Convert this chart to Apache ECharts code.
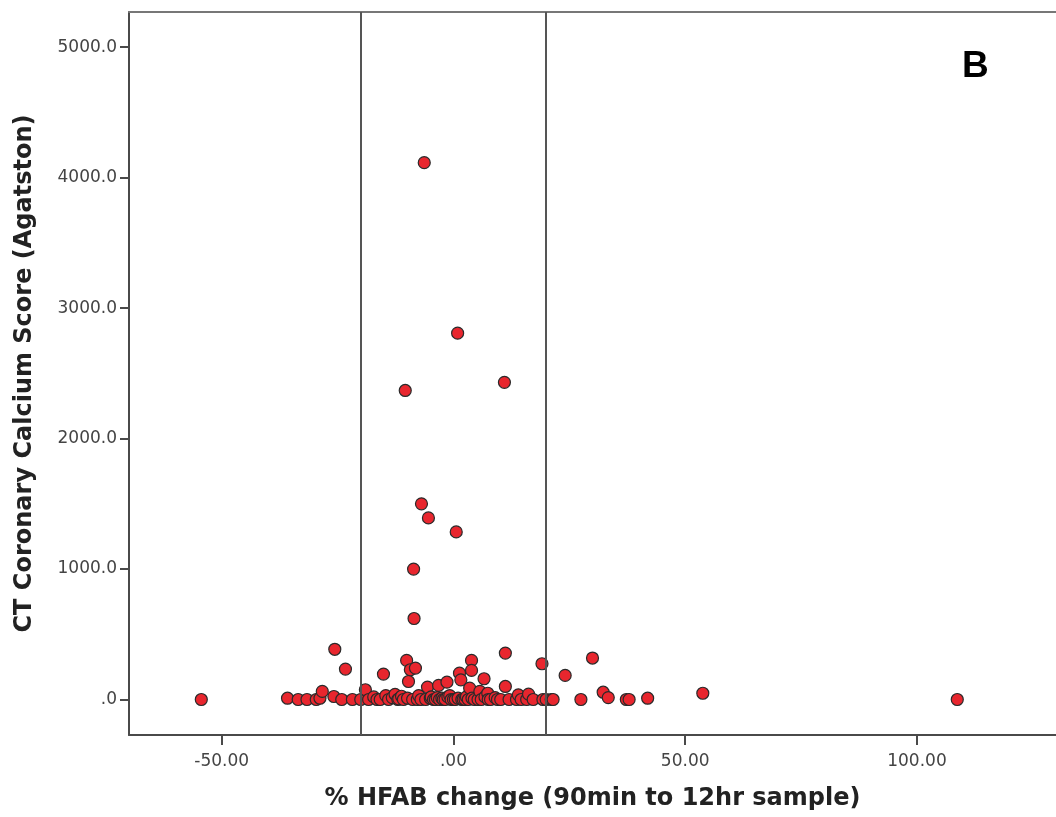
<!DOCTYPE html>
<html>
<head>
<meta charset="utf-8">
<script src="https://cdn.jsdelivr.net/npm/echarts@6/dist/echarts.min.js"></script>
<style>
html,body{margin:0;padding:0;background:#fff;}
#chart{width:1056px;height:817px;}
</style>
</head>
<body>
<div id="chart"></div>
<script>
// % HFAB change (x) and CT coronary calcium score (y)
const hfabChange = [
  -54.4, -35.8, -33.5, -31.6, -29.6, -28.8, -28.3, -25.8, -25.6, -24.1,
  -23.3, -21.8, -20.0, -19.0, -18.3, -17.2, -16.5, -15.8, -15.1, -14.6,
  -14.0, -13.2, -12.6, -12.0, -11.8, -11.2, -10.8, -10.4, -10.1, -9.9,
  -9.7, -9.3, -8.8, -8.6, -8.5, -8.2, -7.8, -7.5, -7.0, -6.9,
  -6.3, -6.0, -5.6, -5.4, -5.0, -4.8, -4.3, -3.9, -3.5, -3.2,
  -3.0, -2.5, -2.2, -1.8, -1.4, -1.2, -0.8, -0.5, 0.0, 0.4,
  0.6, 0.9, 1.0, 1.3, 1.6, 1.8, 2.1, 2.5, 2.8, 3.2,
  3.5, 3.9, 3.9, 4.0, 4.5, 5.3, 5.7, 6.0, 6.6, 6.8,
  7.4, 7.5, 8.0, 9.0, 9.5, 10.2, 11.0, 11.2, 11.2, 12.0,
  13.6, 14.0, 14.6, 15.8, 16.2, 17.2, 19.1, 19.3, 20.0, 21.1,
  21.5, 24.1, 27.5, 30.0, 32.3, 33.4, 37.3, 37.9, 41.9, 53.8,
  108.7
];
const calciumScore = [
  0, 10, 0, 0, 0, 10, 62, 23, 385, 0,
  233, 0, 0, 75, 0, 20, 0, 0, 195, 30,
  0, 15, 40, 0, 5, 25, 0, 2369, 300, 10,
  138, 228, 0, 1000, 621, 241, 0, 30, 0, 1500,
  4115, 0, 95, 1392, 10, 20, 0, 0, 15, 108,
  0, 10, 0, 0, 133, 20, 30, 0, 0, 0,
  1285, 2808, 10, 202, 151, 0, 0, 0, 20, 0,
  87, 300, 223, 10, 0, 0, 62, 0, 159, 20,
  48, 0, 0, 15, 0, 0, 2431, 356, 100, 0,
  0, 36, 0, 0, 41, 0, 274, 0, 0, 0,
  0, 185, 0, 318, 56, 15, 0, 0, 10, 48,
  0
];
const xTicks = [-50, 0, 50, 100];
const yTicks = [0, 1000, 2000, 3000, 4000, 5000];
const refLines = [-20, 20];

const points = hfabChange.map((x, i) => [x, calciumScore[i]]);

const chart = echarts.init(document.getElementById('chart'), null, {renderer: 'canvas'});
const axisColor = '#4a4a4a';
chart.setOption({
  animation: false,
  backgroundColor: '#fff',
  grid: {left: 129, top: 12, right: 0, bottom: 82, containLabel: false},
  xAxis: [{
    type: 'value', min: -70, max: 130,
    axisLine: {show: true, onZero: false, lineStyle: {color: axisColor, width: 2}},
    axisTick: {show: true, length: 10, customValues: xTicks, lineStyle: {color: axisColor, width: 2}},
    axisLabel: {
      customValues: xTicks, margin: 18, color: '#444', fontSize: 17, fontFamily: 'DejaVu Sans',
      formatter: v => v === 0 ? '.00' : v.toFixed(2)
    },
    splitLine: {show: false},
    name: '% HFAB change (90min to 12hr sample)', nameLocation: 'middle', nameGap: 52,
    nameTextStyle: {fontSize: 24, fontWeight: 'bold', color: '#222', fontFamily: 'DejaVu Sans'}
  }, {
    type: 'value', position: 'top', min: -70, max: 130,
    axisLine: {show: true, onZero: false, lineStyle: {color: '#777', width: 2}},
    axisTick: {show: false}, axisLabel: {show: false}, splitLine: {show: false}
  }],
  yAxis: {
    type: 'value', min: -272, max: 5270,
    axisLine: {show: true, onZero: false, lineStyle: {color: axisColor, width: 2}},
    axisTick: {show: true, length: 9, customValues: yTicks, lineStyle: {color: axisColor, width: 2}},
    axisLabel: {
      customValues: yTicks, margin: 12, color: '#444', fontSize: 17, fontFamily: 'DejaVu Sans',
      formatter: v => v === 0 ? '.0' : v.toFixed(1)
    },
    splitLine: {show: false},
    name: 'CT Coronary Calcium Score (Agatston)', nameLocation: 'middle', nameGap: 92, nameRotate: 90,
    nameTextStyle: {fontSize: 24, fontWeight: 'bold', color: '#222', fontFamily: 'DejaVu Sans'}
  },
  graphic: [{
    type: 'text', left: 962, top: 48,
    style: {text: 'B', font: 'bold 37px "Liberation Sans", Arial, sans-serif', fill: '#000'}
  }],
  series: [{
    type: 'scatter',
    data: points,
    symbol: 'circle',
    symbolSize: 12,
    itemStyle: {color: '#e8262e', borderColor: '#2a2a2a', borderWidth: 1.2, opacity: 1},
    markLine: {
      silent: true, symbol: ['none', 'none'], label: {show: false},
      lineStyle: {color: '#555', width: 2, type: 'solid'},
      data: refLines.map(v => ({xAxis: v}))
    },
    z: 3
  }]
});
</script>
</body>
</html>
